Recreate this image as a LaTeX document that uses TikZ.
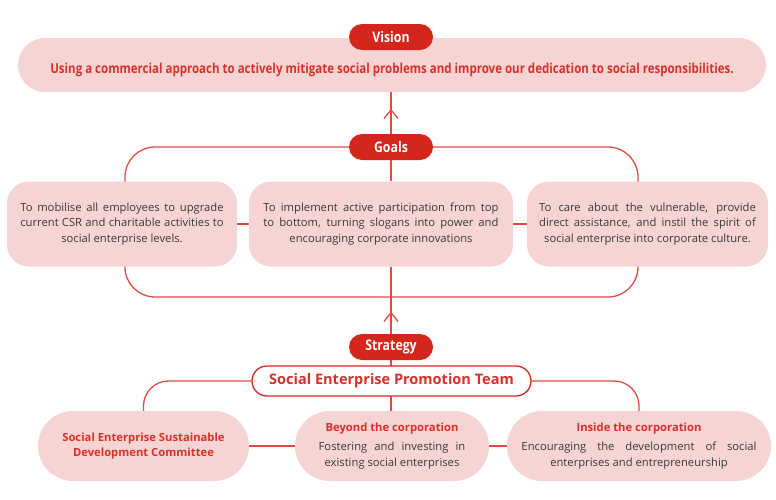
\documentclass[tikz,border=0pt]{standalone}
\usepackage{fontspec}
\setmainfont{Open Sans}
\newfontfamily\condfont[FakeStretch=0.84]{Open Sans}
\usetikzlibrary{arrows.meta,decorations.markings}

\definecolor{pillred}{HTML}{D5261D}
\definecolor{linkred}{HTML}{E04A42}
\definecolor{boxpink}{HTML}{F6D4D4}
\definecolor{textred}{HTML}{D9302A}
\definecolor{textgrey}{HTML}{3A3A3A}

\pgfdeclarelayer{bg}
\pgfsetlayers{bg,main}

% justified paragraph with its last line centred
\newcommand\jc[1]{{\hyphenpenalty=10000\leftskip=0pt plus 1fil\rightskip=0pt plus -1fil\parfillskip=0pt plus 2fil\relax #1\par}}

\tikzset{
  pill/.style={fill=pillred,text=white,minimum width=2.52cm,minimum height=0.78cm,
    rounded corners=0.39cm,font=\condfont\bfseries\fontsize{12.5pt}{14pt}\selectfont},
  goalbox/.style={fill=boxpink,minimum height=2.55cm,rounded corners=0.66cm,align=justify,
    text=textgrey,font=\fontsize{9.6pt}{13.3pt}\selectfont},
  roundbox/.style={fill=boxpink,minimum height=2.1cm,rounded corners=1.05cm,align=justify,
    text=textgrey,font=\fontsize{9.6pt}{13.6pt}\selectfont},
  link/.style={draw=linkred,line width=1.1pt},
  midarrow/.style={decoration={markings,mark=at position #1 with
    {\arrow{Straight Barb[length=7.5pt,width=12pt,line width=1.1pt]}}},postaction=decorate}
}

\begin{document}
\begin{tikzpicture}[x=0.03cm,y=-0.03cm]
  \useasboundingbox (0,0) rectangle (776,500);

  % vision
  \node[fill=boxpink,minimum width=22.44cm,minimum height=1.62cm,rounded corners=0.81cm,
    text height=14.8pt,text depth=0pt,
    text=textred,font=\condfont\bfseries\fontsize{11.7pt}{13pt}\selectfont] (visionbox) at (392,65)
    {Using a commercial approach to actively mitigate social problems and improve our dedication to social responsibilities.};
  \node[pill] (vision) at (391,37) {Vision};

  % goals
  \node[goalbox,minimum width=6.9cm,text width=6.1cm] (goal1) at (122,224)
    {\jc{To mobilise all employees to upgrade current CSR and charitable activities to social enterprise levels.}};
  \node[goalbox,minimum width=7.92cm,text width=7.05cm] (goal2) at (381,224)
    {\jc{To implement active participation from top to bottom, turning slogans into power and encouraging corporate innovations}};
  \node[goalbox,minimum width=7.23cm,text width=6.5cm] (goal3) at (647.5,224)
    {\jc{To care about the vulnerable, provide direct assistance, and instil the spirit of social enterprise into corporate culture.}};
  \node[pill] (goals) at (391,147) {Goals};

  % strategy
  \node[pill] (strategy) at (391,347) {Strategy};
  \node[draw=pillred,line width=1.1pt,fill=white,minimum width=8.37cm,minimum height=0.9cm,
    rounded corners=0.45cm,text=textred,font=\bfseries\fontsize{12.4pt}{14pt}\selectfont] (team) at (391.5,381)
    {Social Enterprise Promotion Team};
  \node[fill=boxpink,minimum height=2.1cm,rounded corners=1.05cm,minimum width=6.33cm,align=center,
    text=textred,font=\bfseries\fontsize{9.6pt}{13.4pt}\selectfont] (committee) at (143.5,446)
    {Social Enterprise Sustainable\\Development Committee};
  \node[roundbox,minimum width=5.82cm,text width=4.4cm] (beyond) at (392,446)
    {\jc{\color{textred}\bfseries Beyond the corporation}\vspace{3pt}\jc{Fostering and investing in existing social enterprises}};
  \node[roundbox,minimum width=7.92cm,text width=7.05cm] (inside) at (639,446)
    {\jc{\color{textred}\bfseries Inside the corporation}\vspace{3pt}\jc{Encouraging the development of social enterprises and entrepreneurship}};

  \begin{pgfonlayer}{bg}
    \draw[link,midarrow=0.6] (goals.north) -- (visionbox.south -| goals.north);
    \draw[link] (goals.south) -- (goal2.north -| goals.south);
    \draw[link,rounded corners=0.9cm] (125,147) rectangle (638,297);
    \draw[link] (goal1.east) -- (goal2.west);
    \draw[link] (goal2.east) -- (goal3.west);
    \draw[link,midarrow=0.33] (strategy.north) -- (goal2.south -| strategy.north);
    \draw[link] (strategy.south) -- (beyond.north -| strategy.south);
    \draw[link,rounded corners=0.75cm] (team.west) -| (committee.north);
    \draw[link,rounded corners=0.75cm] (team.east) -| (inside.north);
    \draw[link] (committee.east) -- (beyond.west);
    \draw[link] (beyond.east) -- (inside.west);
  \end{pgfonlayer}
\end{tikzpicture}
\end{document}
